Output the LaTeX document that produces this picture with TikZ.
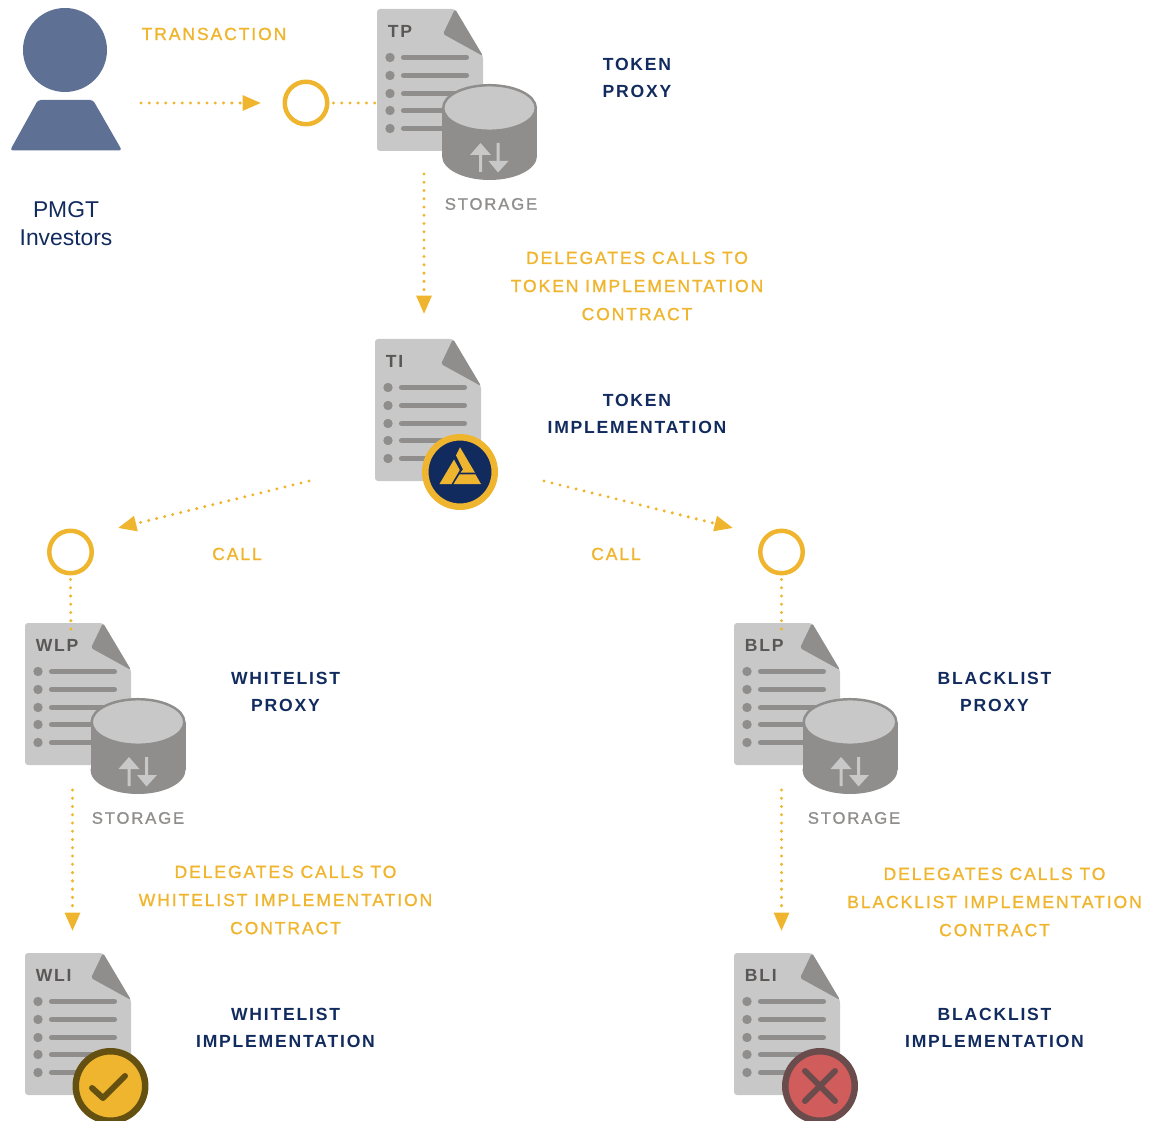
\documentclass[tikz,border=0pt]{standalone}
\usepackage{fontspec}
\setmainfont{Liberation Sans}
\newfontfamily\capsfont[LetterSpace=10.2]{Liberation Sans Bold}
\newfontfamily\goldfont[LetterSpace=10.7,FakeBold=1.2]{Liberation Sans}
\newfontfamily\storagefont[LetterSpace=11,FakeBold=1.2]{Liberation Sans}
\usetikzlibrary{arrows.meta}

\definecolor{goldline}{HTML}{F0B52E}
\definecolor{navytext}{HTML}{122B5E}
\definecolor{persongray}{HTML}{5E7094}
\definecolor{paperlight}{HTML}{C8C8C8}
\definecolor{paperdark}{HTML}{8F8E8C}
\definecolor{doctext}{HTML}{595856}
\definecolor{okring}{HTML}{645011}
\definecolor{nofill}{HTML}{D05C5C}
\definecolor{noring}{HTML}{6A4C4C}

\tikzset{
  goldtext/.style = {
      text = goldline,
      align = center,
      inner sep = 0pt,
      font = \goldfont\fontsize{10}{16}\selectfont},
  navylabel/.style = {
      text = navytext,
      align = center,
      inner sep = 0pt,
      font = \capsfont\fontsize{10}{15.4}\selectfont},
  storagetext/.style = {
      text = paperdark,
      inner sep = 0pt,
      font = \storagefont\fontsize{9.5}{12}\selectfont},
  doclabel/.style = {
      text = doctext,
      anchor = west,
      inner sep = 0pt,
      font = \capsfont\fontsize{10}{12}\selectfont},
  goldcircle/.style = {
      circle,
      draw = goldline,
      line width = 2.55pt,
      minimum size = 0.85cm,
      inner sep = 0pt},
  dotline/.style = {
      draw = goldline,
      line width = 1.9pt,
      line cap = round,
      dash pattern = on 0pt off 4.7pt},
  dotarrow/.style = {
      dotline,
      -{Triangle[length=10.5pt,width=8.5pt,sep=0pt]}},
  docrow/.style = {
      draw = paperdark,
      line width = 2.9pt,
      line cap = round}
}

% document sheet: name, x, y, label
\newcommand{\docicon}[4]{
  \begin{scope}[shift={(#2,#3)}]
    \fill[paperlight, rounded corners=1.7pt] (0,0) -- (78,0) -- (106,47) -- (106,142) -- (0,142) -- cycle;
    \fill[paperdark, rounded corners=1pt] (78,0) -- (106,47) -- (66,25) -- cycle;
    \node[rectangle,
        anchor = north west,
        inner sep = 0pt,
        minimum width = 2.12cm,
        minimum height = 2.84cm] (#1) at (0,0) {};
    \node[doclabel] (#1label) at (10.5,22) {#4};
    \foreach \rowy in {48.5,66.5,84.5,101.5,119.5} {
      \fill[paperdark] (13,\rowy) circle[radius=4.7];
      \draw[docrow] (26.5,\rowy) -- (89.5,\rowy);
    }
  \end{scope}
}

% storage drum: x, y of the top ellipse
\newcommand{\drum}[2]{
  \begin{scope}[shift={(#1,#2)}]
    \fill[paperdark] (0,48) ellipse[x radius=47.5, y radius=24];
    \fill[paperdark] (-47.5,0) rectangle (47.5,48);
    \fill[paperlight, draw=paperdark, line width=1.4pt] (0,0) ellipse[x radius=46.3, y radius=22.8];
    \fill[paperlight] (-9,35) -- (1.5,47) -- (-7.5,47) -- (-7.5,64) -- (-10.5,64) -- (-10.5,47) -- (-19.5,47) -- cycle;
    \fill[paperlight] (8.5,64.5) -- (-1,53) -- (7,53) -- (7,35) -- (10,35) -- (10,53) -- (19,53) -- cycle;
  \end{scope}
}

\begin{document}
\begin{tikzpicture}[x=0.02cm, y=-0.02cm]
\useasboundingbox (0,0) rectangle (1159,1121);

% investors
\fill[persongray] (65,50) circle[radius=42];
\fill[persongray, rounded corners=1.7pt] (38,100) -- (93,100) -- (122,150.5) -- (10,150.5) -- cycle;
\node[text = navytext,
    align = center,
    inner sep = 0pt,
    font = \fontsize{13}{15.9}\selectfont] (investors) at (66,224) {PMGT\\Investors};

% token proxy
\docicon{tp}{377}{9}{TP}
\drum{489.5}{108}
\node[storagetext] (tpstorage) at (491,204) {STORAGE};
\node[navylabel] (tplabel) at (637,78) {TOKEN\\PROXY};

\node[goldtext] (txlabel) at (214,34) {TRANSACTION};
\node[goldcircle] (txcircle) at (306,103) {};
\coordinate (txstart) at (141,103);
\coordinate (txend) at (261,103);
\draw[dotarrow] (txstart) -- (txend);
\draw[dotline] (txcircle.east) ++(4,0) -- (tp.west |- txcircle);

% token implementation
\docicon{ti}{375}{339}{TI}
\node[navylabel] (tilabel) at (637,414) {TOKEN\\IMPLEMENTATION};
\node[goldtext] (delegatetoken) at (637,286) {DELEGATES CALLS TO\\TOKEN IMPLEMENTATION\\CONTRACT};
\coordinate (tistart) at (424,174);
\coordinate (tiend) at (424,314);
\draw[dotarrow] (tistart) -- (tiend);

\node[circle,
    fill = navytext,
    draw = goldline,
    line width = 3.7pt,
    minimum size = 1.39cm,
    inner sep = 0pt] (tibadge) at (460,472) {};
\fill[goldline] (439.5,484) -- (454,459.5) -- (459.7,470) -- (451.5,484) -- cycle;
\fill[goldline] (460,447.3) -- (475,472.7) -- (460.5,472.7) -- (463,469.5) -- (456,455.5) -- cycle;
\fill[goldline] (459.5,474.5) -- (475.5,474.5) -- (481,484) -- (453.5,484) -- cycle;

% calls
\coordinate (leftstart) at (309,481);
\coordinate (leftend) at (118,528);
\coordinate (rightstart) at (544,481);
\coordinate (rightend) at (733,528);
\draw[dotarrow] (leftstart) -- (leftend);
\draw[dotarrow] (rightstart) -- (rightend);
\node[goldtext] (leftcall) at (237,554) {CALL};
\node[goldtext] (rightcall) at (616,554) {CALL};
\node[goldcircle] (wlcircle) at (70.5,552) {};
\node[goldcircle] (blcircle) at (781.5,552) {};

% whitelist proxy
\docicon{wlp}{25}{623}{WLP}
\drum{138}{722}
\node[storagetext] (wlpstorage) at (138,818) {STORAGE};
\node[navylabel] (wlplabel) at (285.5,692) {WHITELIST\\PROXY};
\coordinate (wlpin) at (71,636);
\draw[dotline] (wlcircle.south) ++(0,4) -- (wlpin);

% blacklist proxy
\docicon{blp}{734}{623}{BLP}
\drum{850}{722}
\node[storagetext] (blpstorage) at (854,818) {STORAGE};
\node[navylabel] (blplabel) at (994.5,692) {BLACKLIST\\PROXY};
\coordinate (blpin) at (781.5,636);
\draw[dotline] (blcircle.south) ++(0,4) -- (blpin);

% whitelist implementation
\docicon{wli}{25}{953}{WLI}
\node[navylabel] (wlilabel) at (285.5,1028) {WHITELIST\\IMPLEMENTATION};
\node[goldtext] (delegatewl) at (285.5,900) {DELEGATES CALLS TO\\WHITELIST IMPLEMENTATION\\CONTRACT};
\coordinate (wlistart) at (72.5,790);
\coordinate (wliend) at (72.5,931);
\draw[dotarrow] (wlistart) -- (wliend);
\node[circle,
    fill = goldline,
    draw = okring,
    line width = 3.7pt,
    minimum size = 1.39cm,
    inner sep = 0pt] (wlibadge) at (110.5,1086) {};
\draw[okring, line width=3.4pt, line cap=round, line join=round] (92,1088) -- (103,1098) -- (125,1076);

% blacklist implementation
\docicon{bli}{734}{953}{BLI}
\node[navylabel] (blilabel) at (994.5,1028) {BLACKLIST\\IMPLEMENTATION};
\node[goldtext] (delegatebl) at (994.5,902) {DELEGATES CALLS TO\\BLACKLIST IMPLEMENTATION\\CONTRACT};
\coordinate (blistart) at (781.5,790);
\coordinate (bliend) at (781.5,931);
\draw[dotarrow] (blistart) -- (bliend);
\node[circle,
    fill = nofill,
    draw = noring,
    line width = 3.7pt,
    minimum size = 1.39cm,
    inner sep = 0pt] (blibadge) at (820,1086) {};
\draw[noring, line width=3.4pt, line cap=round] (805,1071) -- (835,1101);
\draw[noring, line width=3.4pt, line cap=round] (835,1071) -- (805,1101);

\end{tikzpicture}
\end{document}
